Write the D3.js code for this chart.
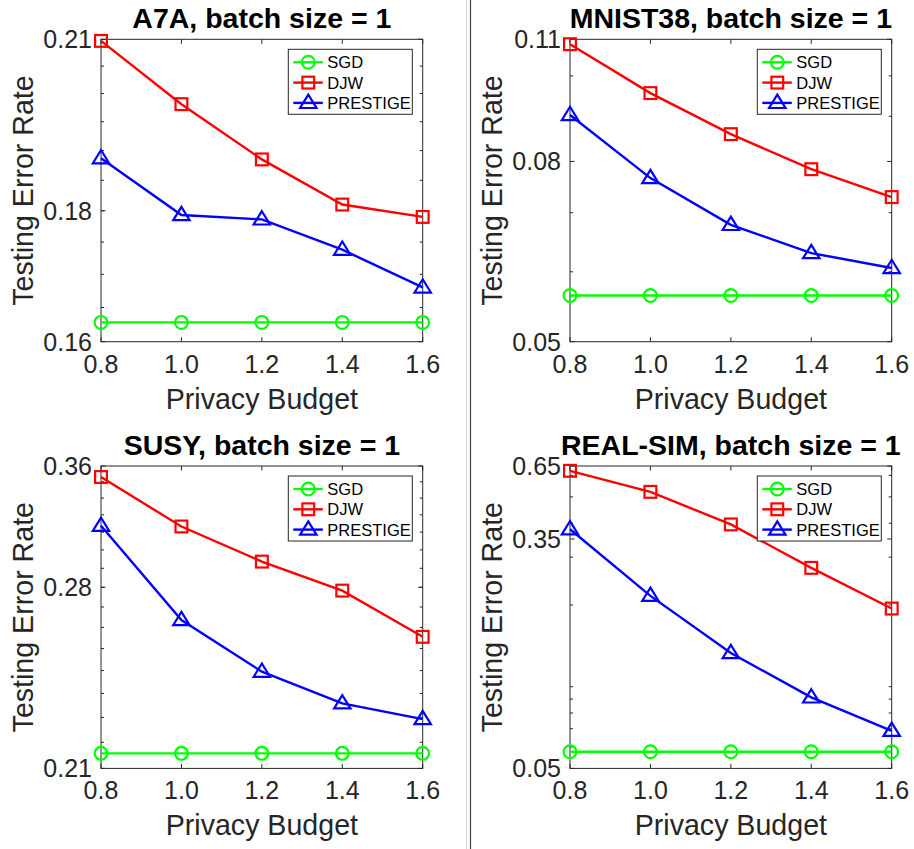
<!DOCTYPE html>
<html>
<head>
<meta charset="utf-8">
<script src="https://cdn.jsdelivr.net/npm/d3@7"></script>
<style>
	html, body { margin: 0; padding: 0; background: #fff; }
	svg { display: block; }
</style>
</head>
<body>
<div id="chart"></div>
<script>
/* global d3 */

// privacy budgets on the x axis (shared by all four panels)
var budgets = [0.8, 1.0, 1.2, 1.4, 1.6];
var budgetTickLabels = ["0.8", "1.0", "1.2", "1.4", "1.6"];
var seriesNames = ["SGD", "DJW", "PRESTIGE"];

// A7A
var a7aSGD = [0.1628, 0.1628, 0.1628, 0.1628, 0.1628];
var a7aDJW = [0.2097, 0.1981, 0.1885, 0.1810, 0.1790];
var a7aPRESTIGE = [0.1887, 0.1793, 0.1786, 0.1738, 0.1680];
var a7aYTicks = [0.16, 0.18, 0.21];
var a7aYTickLabels = ["0.16", "0.18", "0.21"];

// MNIST38
var mnistSGD = [0.0564, 0.0564, 0.0564, 0.0564, 0.0564];
var mnistDJW = [0.1086, 0.0956, 0.0859, 0.0784, 0.0729];
var mnistPRESTIGE = [0.0903, 0.0766, 0.0678, 0.0630, 0.0606];
var mnistYTicks = [0.05, 0.08, 0.11];
var mnistYTickLabels = ["0.05", "0.08", "0.11"];

// SUSY
var susySGD = [0.2157, 0.2157, 0.2157, 0.2157, 0.2157];
var susyDJW = [0.3530, 0.3232, 0.3036, 0.2883, 0.2655];
var susyPRESTIGE = [0.3236, 0.2736, 0.2495, 0.2358, 0.2293];
var susyYTicks = [0.21, 0.29, 0.36];
var susyYTickLabels = ["0.21", "0.28", "0.36"];

// REAL-SIM
var realSGD = [0.0576, 0.0576, 0.0576, 0.0576, 0.0576];
var realDJW = [0.624, 0.522, 0.396, 0.274, 0.194];
var realPRESTIGE = [0.380, 0.216, 0.133, 0.0913, 0.0688];
var realYTicks = [0.05, 0.35, 0.65];
var realYTickLabels = ["0.05", "0.35", "0.65"];


var CHART = {};

CHART.width = 914;
CHART.height = 849;
CHART.font = "'Liberation Sans', Arial, sans-serif";
CHART.axisColor = "#262626";
CHART.colors = { SGD: "#00ff00", DJW: "#ff0000", PRESTIGE: "#0000ff" };
CHART.shapes = { SGD: "circle", DJW: "square", PRESTIGE: "triangle" };

CHART.svg = d3.select("#chart")
	.append("svg")
	.attr("width", CHART.width)
	.attr("height", CHART.height);

CHART.svg.append("rect")
	.attr("width", CHART.width)
	.attr("height", CHART.height)
	.attr("fill", "#fff");

// separator between the two columns
CHART.svg.append("line")
	.attr("x1", 466.5).attr("x2", 466.5)
	.attr("y1", 0).attr("y2", CHART.height)
	.attr("stroke", "#d4d4d4")
	.attr("stroke-width", 1);

CHART.svg.append("line")
	.attr("x1", 470.5).attr("x2", 470.5)
	.attr("y1", 0).attr("y2", CHART.height)
	.attr("stroke", "#444")
	.attr("stroke-width", 1.2);


/**
 * Draws one marker shape at x, y
 */
CHART.marker = function (g, shape, x, y, color) {

	if (shape === "circle") {
		g.append("circle")
			.attr("cx", x).attr("cy", y).attr("r", 6.4)
			.attr("fill", "none").attr("stroke", color).attr("stroke-width", 2.2);
	} else if (shape === "square") {
		g.append("rect")
			.attr("x", x - 5.9).attr("y", y - 5.9)
			.attr("width", 11.8).attr("height", 11.8)
			.attr("fill", "none").attr("stroke", color).attr("stroke-width", 2.2);
	} else {
		var s = 8.2;
		g.append("path")
			.attr("d", "M" + x + "," + (y - s) + "L" + (x + s) + "," + (y + s * 0.62) + "L" + (x - s) + "," + (y + s * 0.62) + "Z")
			.attr("fill", "none").attr("stroke", color).attr("stroke-width", 2.2)
			.attr("stroke-linejoin", "miter");
	}
};


/**
 * Draws one panel of the figure
 *
 * @returns {undefined}
 */
CHART.panel = function (opt) {

	var left = opt.left, top = opt.top, w = 321.7, h = 302.4;
	var g = CHART.svg.append("g");

	var x = d3.scaleLinear().domain([0.8, 1.6]).range([left, left + w]);
	var y = d3.scaleLog().domain(opt.domain).range([top + h, top]);

	//* MINOR TICKS (left and right, inward)
	opt.minor.forEach(function (v) {
		var py = y(v);
		g.append("line").attr("x1", left).attr("x2", left + 3).attr("y1", py).attr("y2", py)
			.attr("stroke", CHART.axisColor).attr("stroke-width", 1);
		g.append("line").attr("x1", left + w).attr("x2", left + w - 3).attr("y1", py).attr("y2", py)
			.attr("stroke", CHART.axisColor).attr("stroke-width", 1);
	});

	//* MAJOR Y TICKS
	opt.yTicks.forEach(function (v, i) {
		var py = y(v);
		g.append("line").attr("x1", left).attr("x2", left + 4.5).attr("y1", py).attr("y2", py)
			.attr("stroke", CHART.axisColor).attr("stroke-width", 1);
		g.append("line").attr("x1", left + w).attr("x2", left + w - 4.5).attr("y1", py).attr("y2", py)
			.attr("stroke", CHART.axisColor).attr("stroke-width", 1);
		g.append("text")
			.attr("x", left - 9)
			.attr("y", py)
			.attr("dy", "0.36em")
			.attr("font-family", CHART.font)
			.attr("font-size", 25)
			.style("text-anchor", "end")
			.style("fill", CHART.axisColor)
			.text(opt.yTickLabels[i]);
	});

	//* X TICKS
	budgets.forEach(function (v, i) {
		var px = x(v);
		g.append("line").attr("x1", px).attr("x2", px).attr("y1", top + h).attr("y2", top + h - 4.5)
			.attr("stroke", CHART.axisColor).attr("stroke-width", 1);
		g.append("line").attr("x1", px).attr("x2", px).attr("y1", top).attr("y2", top + 4.5)
			.attr("stroke", CHART.axisColor).attr("stroke-width", 1);
		g.append("text")
			.attr("x", px)
			.attr("y", top + h + 31)
			.attr("font-family", CHART.font)
			.attr("font-size", 25)
			.style("text-anchor", "middle")
			.style("fill", CHART.axisColor)
			.text(budgetTickLabels[i]);
	});

	//* BOX
	g.append("rect")
		.attr("x", left).attr("y", top).attr("width", w).attr("height", h)
		.attr("fill", "none").attr("stroke", CHART.axisColor).attr("stroke-width", 1);

	//* SERIES
	var line = d3.line()
		.x(function (d, i) { return x(budgets[i]); })
		.y(function (d) { return y(d); });

	seriesNames.forEach(function (name) {
		var values = opt.series[name];
		g.append("path")
			.datum(values)
			.attr("d", line)
			.attr("fill", "none")
			.attr("stroke", CHART.colors[name])
			.attr("stroke-width", 2.4);
		values.forEach(function (v, i) {
			CHART.marker(g, CHART.shapes[name], x(budgets[i]), y(v), CHART.colors[name]);
		});
	});

	//* LEGEND
	var lx = left + w - 134.4, ly = top + 10;
	g.append("rect")
		.attr("x", lx).attr("y", ly).attr("width", 124).attr("height", 65)
		.attr("fill", "#fff").attr("stroke", CHART.axisColor).attr("stroke-width", 1);

	seriesNames.forEach(function (name, i) {
		var ry = ly + 13 + i * 20.3;
		g.append("line")
			.attr("x1", lx + 5).attr("x2", lx + 34.5).attr("y1", ry).attr("y2", ry)
			.attr("stroke", CHART.colors[name]).attr("stroke-width", 2.4);
		CHART.marker(g, CHART.shapes[name], lx + 20, ry, CHART.colors[name]);
		g.append("text")
			.attr("x", lx + 39)
			.attr("y", ry)
			.attr("dy", "0.36em")
			.attr("font-family", CHART.font)
			.attr("font-size", 16.5)
			.style("fill", "#000")
			.text(name);
	});

	//* TITLE
	g.append("text")
		.attr("x", left + w / 2)
		.attr("y", top - 11.5)
		.attr("font-family", CHART.font)
		.attr("font-size", 28.5)
		.style("font-weight", "700")
		.style("text-anchor", "middle")
		.style("fill", "#000")
		.text(opt.title);

	//* AXIS LABELS
	g.append("text")
		.attr("x", left + w / 2)
		.attr("y", top + h + 67)
		.attr("font-family", CHART.font)
		.attr("font-size", 28.6)
		.style("text-anchor", "middle")
		.style("fill", CHART.axisColor)
		.text("Privacy Budget");

	g.append("text")
		.attr("transform", "translate(" + (left - 68) + "," + (top + h / 2) + ") rotate(-90)")
		.attr("font-family", CHART.font)
		.attr("font-size", 28.6)
		.style("text-anchor", "middle")
		.style("fill", CHART.axisColor)
		.text("Testing Error Rate");
};


CHART.panel({
	title: "A7A, batch size = 1",
	left: 101, top: 39.3,
	domain: [0.16, 0.21],
	yTicks: a7aYTicks,
	yTickLabels: a7aYTickLabels,
	minor: d3.range(0.165, 0.2075, 0.005),
	series: { SGD: a7aSGD, DJW: a7aDJW, PRESTIGE: a7aPRESTIGE }
});

CHART.panel({
	title: "MNIST38, batch size = 1",
	left: 570, top: 39.3,
	domain: [0.05, 0.11],
	yTicks: mnistYTicks,
	yTickLabels: mnistYTickLabels,
	minor: [0.06, 0.07, 0.09, 0.10],
	series: { SGD: mnistSGD, DJW: mnistDJW, PRESTIGE: mnistPRESTIGE }
});

CHART.panel({
	title: "SUSY, batch size = 1",
	left: 101, top: 466,
	domain: [0.21, 0.36],
	yTicks: susyYTicks,
	yTickLabels: susyYTickLabels,
	minor: d3.range(0.22, 0.355, 0.01),
	series: { SGD: susySGD, DJW: susyDJW, PRESTIGE: susyPRESTIGE }
});

CHART.panel({
	title: "REAL-SIM, batch size = 1",
	left: 570, top: 466,
	domain: [0.05, 0.65],
	yTicks: realYTicks,
	yTickLabels: realYTickLabels,
	minor: [0.06, 0.07, 0.08, 0.09, 0.1, 0.2, 0.3, 0.4, 0.5, 0.6],
	series: { SGD: realSGD, DJW: realDJW, PRESTIGE: realPRESTIGE }
});
</script>
</body>
</html>
